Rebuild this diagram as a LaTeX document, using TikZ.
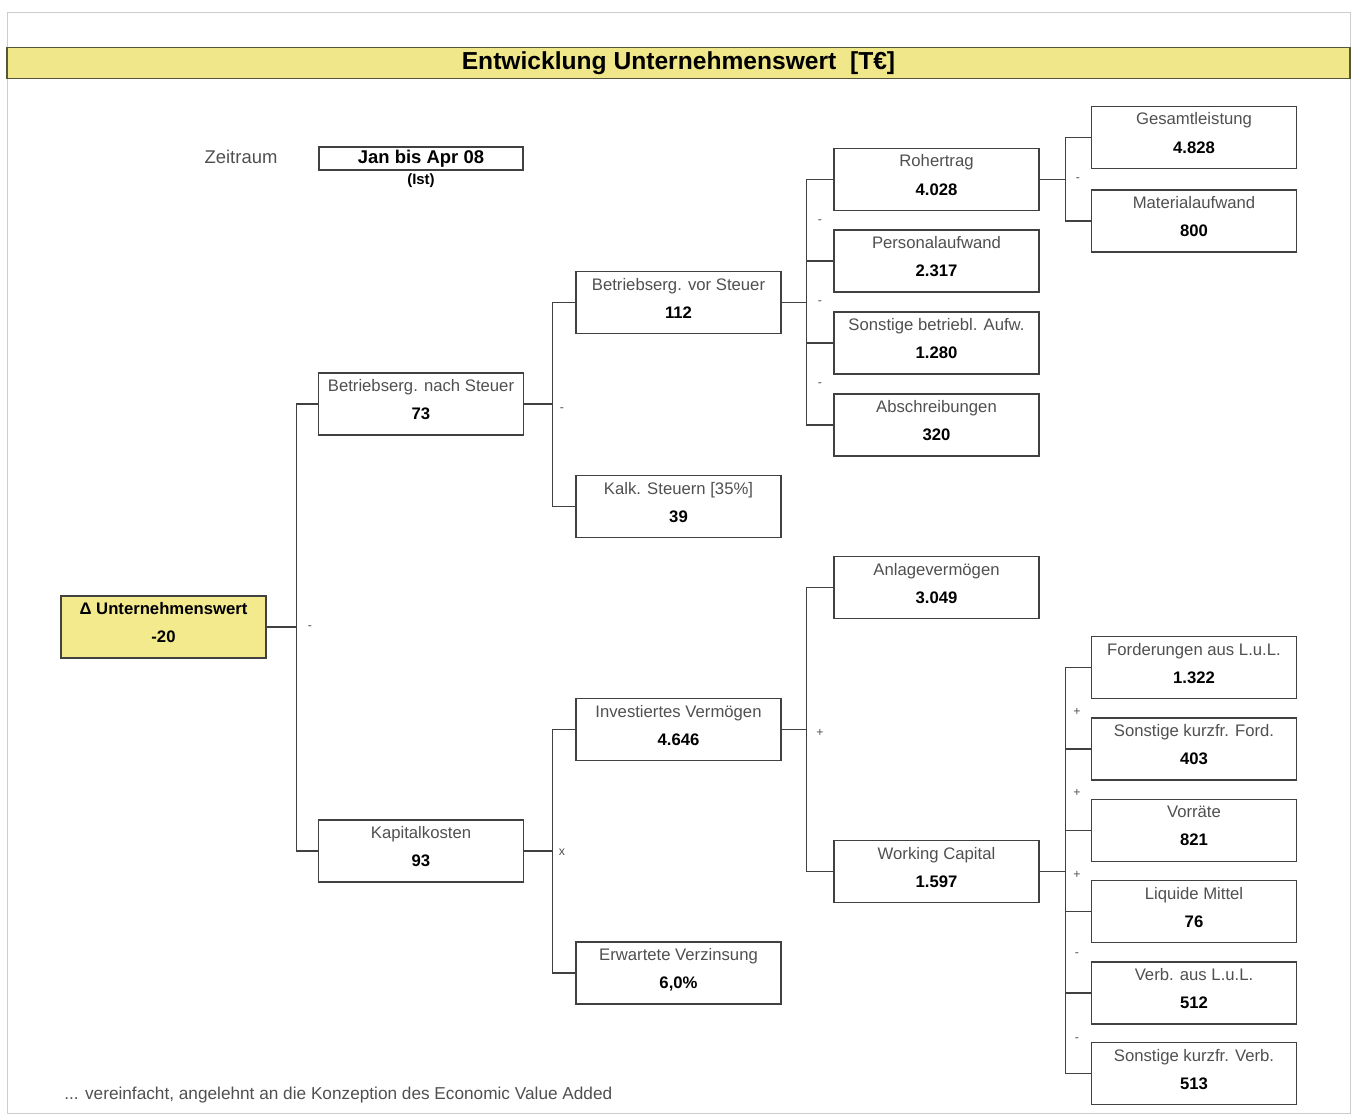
\documentclass[tikz,border=0pt]{standalone}
\usepackage{fontspec}
\setmainfont{Liberation Sans}
\usepackage{xcolor}
\usepackage{tikz}
\usetikzlibrary{positioning}
\definecolor{kpiyellow}{RGB}{243, 234, 142}
\definecolor{titleyellow}{RGB}{240, 231, 138}
\definecolor{titleline}{RGB}{85, 85, 55}
\definecolor{boxgray}{RGB}{65, 65, 65}
\definecolor{labelgray}{RGB}{80, 80, 80}
\definecolor{framegray}{RGB}{205, 205, 205}

\begin{document}
\begin{tikzpicture}[
        x=0.2mm, y=-0.2mm,
        kbox/.style={rectangle, draw=boxgray, line width=0.8pt, minimum width=41mm, minimum height=12.4mm, inner sep=0pt, align=center, fill=white, text=labelgray, font=\fontsize{9.5}{11}\selectfont, execute at end node={\rule[-1.8mm]{0pt}{1.8mm}}},
        rootbox/.style={kbox, fill=kpiyellow, text=black, font=\fontsize{9.5}{11}\selectfont\bfseries},
        titlebar/.style={rectangle, draw=titleline, line width=1pt, fill=titleyellow, minimum width=268.6mm, minimum height=6.2mm, inner sep=0pt, text=black, font=\fontsize{14}{16}\selectfont\bfseries},
        periodbox/.style={rectangle, draw=boxgray, line width=0.8pt, minimum width=40.8mm, minimum height=4.6mm, inner sep=0pt, font=\fontsize{10.5}{12}\selectfont\bfseries},
        conn/.style={draw=boxgray, line width=0.8pt},
        op/.style={inner sep=0pt, text=labelgray, font=\fontsize{7}{8}\selectfont},
        note/.style={inner sep=0pt, text=labelgray, font=\fontsize{9.8}{11}\selectfont}
    ]
    \useasboundingbox (0,0) rectangle (1355,1115);

    % Frame and title
    \draw[framegray] (7,12) rectangle (1350,1113);
    \node[titlebar] (titel) at (678.5,63) {Entwicklung Unternehmenswert\ \ [T€]};

    % Period
    \node[note, font=\fontsize{10.5}{12}\selectfont] (zeitraum) at (241,157) {Zeitraum};
    \node[periodbox] (periode) at (421,158.5) {Jan bis Apr 08};
    \node[inner sep=0pt, font=\fontsize{8.5}{10}\selectfont\bfseries] (ist) at (421,181) {(Ist)};

    % Root
    \node[rootbox] (uwert) at (163.5,627) {Δ Unternehmenswert\\[5pt]-20};

    % Level 1
    \node[kbox] (bnach) at (421,404) {Betriebserg. nach Steuer\\[5pt]\textbf{\textcolor{black}{73}}};
    \node[kbox] (kapk) at (421,851) {Kapitalkosten\\[5pt]\textbf{\textcolor{black}{93}}};

    % Level 2
    \node[kbox] (bvor) at (678.5,302.5) {Betriebserg. vor Steuer\\[5pt]\textbf{\textcolor{black}{112}}};
    \node[kbox] (steuern) at (678.5,506.5) {Kalk. Steuern [35\%]\\[5pt]\textbf{\textcolor{black}{39}}};
    \node[kbox] (invest) at (678.5,729.5) {Investiertes Vermögen\\[5pt]\textbf{\textcolor{black}{4.646}}};
    \node[kbox] (verz) at (678.5,973) {Erwartete Verzinsung\\[5pt]\textbf{\textcolor{black}{6,0\%}}};

    % Level 3
    \node[kbox] (roh) at (936.5,179.5) {Rohertrag\\[5pt]\textbf{\textcolor{black}{4.028}}};
    \node[kbox] (pers) at (936.5,261) {Personalaufwand\\[5pt]\textbf{\textcolor{black}{2.317}}};
    \node[kbox] (sonst) at (936.5,343) {Sonstige betriebl. Aufw.\\[5pt]\textbf{\textcolor{black}{1.280}}};
    \node[kbox] (abschr) at (936.5,425) {Abschreibungen\\[5pt]\textbf{\textcolor{black}{320}}};
    \node[kbox] (anlage) at (936.5,587.5) {Anlagevermögen\\[5pt]\textbf{\textcolor{black}{3.049}}};
    \node[kbox] (wc) at (936.5,871.5) {Working Capital\\[5pt]\textbf{\textcolor{black}{1.597}}};

    % Level 4
    \node[kbox] (gesamt) at (1194,137.5) {Gesamtleistung\\[5pt]\textbf{\textcolor{black}{4.828}}};
    \node[kbox] (material) at (1194,221) {Materialaufwand\\[5pt]\textbf{\textcolor{black}{800}}};
    \node[kbox] (ford) at (1194,667.5) {Forderungen aus L.u.L.\\[5pt]\textbf{\textcolor{black}{1.322}}};
    \node[kbox] (sford) at (1194,749) {Sonstige kurzfr. Ford.\\[5pt]\textbf{\textcolor{black}{403}}};
    \node[kbox] (vorr) at (1194,830.5) {Vorräte\\[5pt]\textbf{\textcolor{black}{821}}};
    \node[kbox] (liq) at (1194,911.5) {Liquide Mittel\\[5pt]\textbf{\textcolor{black}{76}}};
    \node[kbox] (verb) at (1194,993) {Verb. aus L.u.L.\\[5pt]\textbf{\textcolor{black}{512}}};
    \node[kbox] (sverb) at (1194,1073.5) {Sonstige kurzfr. Verb.\\[5pt]\textbf{\textcolor{black}{513}}};

    % Tree connectors
    \draw[conn] (uwert.east) -- ++(30,0) |- (bnach.west);
    \draw[conn] (uwert.east) -- ++(30,0) |- (kapk.west);

    \draw[conn] (bnach.east) -- ++(28,0) |- (bvor.west);
    \draw[conn] (bnach.east) -- ++(28,0) |- (steuern.west);
    \draw[conn] (kapk.east) -- ++(28,0) |- (invest.west);
    \draw[conn] (kapk.east) -- ++(28,0) |- (verz.west);

    \draw[conn] (bvor.east) -- ++(25,0) |- (roh.west);
    \draw[conn] (bvor.east) -- ++(25,0) |- (pers.west);
    \draw[conn] (bvor.east) -- ++(25,0) |- (sonst.west);
    \draw[conn] (bvor.east) -- ++(25,0) |- (abschr.west);
    \draw[conn] (invest.east) -- ++(25,0) |- (anlage.west);
    \draw[conn] (invest.east) -- ++(25,0) |- (wc.west);

    \draw[conn] (roh.east) -- ++(26,0) |- (gesamt.west);
    \draw[conn] (roh.east) -- ++(26,0) |- (material.west);
    \draw[conn] (wc.east) -- ++(26,0) |- (ford.west);
    \draw[conn] (wc.east) -- ++(26,0) |- (sford.west);
    \draw[conn] (wc.east) -- ++(26,0) |- (vorr.west);
    \draw[conn] (wc.east) -- ++(26,0) |- (liq.west);
    \draw[conn] (wc.east) -- ++(26,0) |- (verb.west);
    \draw[conn] (wc.east) -- ++(26,0) |- (sverb.west);

    % Operators
    \node[op] (op_uwert) at (310,628) {-};
    \node[op] (op_bnach) at (562,410) {-};
    \node[op] (op_kapk) at (562,852) {x};
    \node[op] (op_bvor1) at (820,222) {-};
    \node[op] (op_bvor2) at (820,303) {-};
    \node[op] (op_bvor3) at (820,385) {-};
    \node[op] (op_invest) at (820,733) {+};
    \node[op] (op_roh) at (1078,180) {-};
    \node[op] (op_wc1) at (1077,712) {+};
    \node[op] (op_wc2) at (1077,793) {+};
    \node[op] (op_wc3) at (1077,875) {+};
    \node[op] (op_wc4) at (1077,955) {-};
    \node[op] (op_wc5) at (1077,1040) {-};

    % Footnote
    \node[note, anchor=west] (fussnote) at (64,1095) {... vereinfacht, angelehnt an die Konzeption des Economic Value Added};

\end{tikzpicture}
\end{document}
